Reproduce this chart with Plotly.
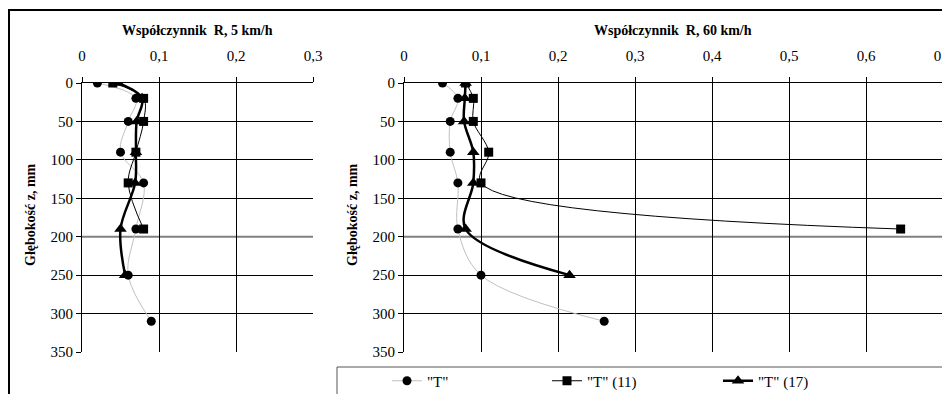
import plotly.graph_objects as go

# ---- data ----
depth = [0, 20, 50, 90, 130, 190, 250, 310]
depth_11 = [0, 20, 50, 90, 130, 190]
depth_17 = [0, 20, 50, 90, 130, 190, 250]

r5_T = [0.02, 0.07, 0.06, 0.05, 0.08, 0.07, 0.06, 0.09]
r5_T11 = [0.04, 0.08, 0.08, 0.07, 0.06, 0.08]
r5_T17 = [0.047, 0.078, 0.071, 0.07, 0.069, 0.05, 0.056]

r60_T = [0.05, 0.07, 0.06, 0.06, 0.07, 0.07, 0.10, 0.26]
r60_T11 = [0.08, 0.09, 0.09, 0.11, 0.10, 0.645]
r60_T17 = [0.08, 0.079, 0.078, 0.09, 0.09, 0.08, 0.215]

names = ['"T"', '"T" (11)', '"T" (17)']
x5_ticks = [0, 0.1, 0.2, 0.3]
x60_ticks = [0, 0.1, 0.2, 0.3, 0.4, 0.5, 0.6, 0.7]
y_ticks = [0, 50, 100, 150, 200, 250, 300, 350]
grey_depth = 200
title_5 = "Współczynnik  R, 5 km/h"
title_60 = "Współczynnik  R, 60 km/h"
y_title = "Głębokość z, mm"

W, H = 950, 394
OFF = 8  # page body margin
FONT = "Liberation Serif, Times New Roman, serif"

def px(x):
    return (x - OFF) / W

def py(y):
    return 1 - (y - OFF) / H

fig = go.Figure()

styles = [
    dict(line=dict(color="#c0c0c0", width=1, shape="spline", smoothing=1),
         marker=dict(symbol="circle", size=9, color="black")),
    dict(line=dict(color="black", width=1, shape="spline", smoothing=1),
         marker=dict(symbol="square", size=9, color="black")),
    dict(line=dict(color="black", width=2.5, shape="spline", smoothing=1),
         marker=dict(symbol="triangle-up", size=11, color="black")),
]
legends = ["legend", "legend2", "legend3"]

panels = [
    ("x", "y", [(r5_T, depth), (r5_T11, depth_11), (r5_T17, depth_17)], True),
    ("x2", "y2", [(r60_T, depth), (r60_T11, depth_11), (r60_T17, depth_17)], False),
]
order = [0, 2, 1]  # draw squares on top
for xa, ya, series, show in panels:
    for i in order:
        xs, ys = series[i]
        fig.add_trace(go.Scatter(
            x=xs, y=ys, mode="lines+markers", name=names[i],
            xaxis=xa, yaxis=ya, legendgroup=names[i], showlegend=show,
            legend=legends[i], **styles[i]))

tickfont = dict(family=FONT, size=15, color="black")
x_common = dict(showgrid=True, gridcolor="black", gridwidth=1, showline=True,
                linecolor="black", linewidth=1, ticks="outside", ticklen=5,
                tickcolor="black", zeroline=False, automargin=False,
                side="top", ticklabelstandoff=10, tickfont=tickfont)
y_common = dict(showgrid=False, showline=True, linecolor="black", linewidth=1,
                ticks="outside", ticklen=5, tickcolor="black", zeroline=False,
                automargin=False, range=[350, 0], tickvals=y_ticks, tickfont=tickfont,
                minor=dict(tickvals=[v for v in y_ticks if v != grey_depth],
                           showgrid=True, gridcolor="black", gridwidth=1, ticks=""))

ydom = [py(352), py(83)]
fig.update_layout(
    width=W, height=H, margin=dict(l=0, r=0, t=0, b=0, autoexpand=False),
    paper_bgcolor="white", plot_bgcolor="white", separators=", ",
    font=dict(family=FONT, size=15, color="black"),
    xaxis=dict(domain=[px(82), px(313)], anchor="y", range=[0, 0.3],
               tickvals=x5_ticks, **x_common),
    yaxis=dict(domain=ydom, anchor="x", **y_common),
    xaxis2=dict(domain=[px(404), px(943)], anchor="y2", range=[0, 0.7],
                tickvals=x60_ticks, **x_common),
    yaxis2=dict(domain=ydom, anchor="x2", **y_common),
)

leg_common = dict(orientation="h", bgcolor="rgba(0,0,0,0)", borderwidth=0,
                  xanchor="left", yanchor="middle", y=py(381),
                  font=dict(family=FONT, size=15, color="black"))
fig.update_layout(
    legend=dict(x=px(409 - 22), **leg_common),
    legend2=dict(x=px(569 - 22), **leg_common),
    legend3=dict(x=px(740 - 22), **leg_common),
)

# grey gridline at 200 in both panels
for xr, yr in (("x domain", "y"), ("x2 domain", "y2")):
    fig.add_shape(type="line", xref=xr, yref=yr, x0=0, x1=1, y0=grey_depth, y1=grey_depth,
                  line=dict(color="#808080", width=2), layer="below")

# outer frame and legend box
fig.add_shape(type="rect", xref="paper", yref="paper", x0=px(9), x1=1.05,
              y0=-0.05, y1=py(10), line=dict(color="black", width=2))
fig.add_shape(type="rect", xref="paper", yref="paper", x0=px(337), x1=1.05,
              y0=-0.05, y1=py(367), line=dict(color="#555555", width=1))

title_font = dict(family=FONT, size=14, color="black")
ann = dict(xref="paper", yref="paper", showarrow=False, font=title_font,
           xanchor="center", yanchor="middle")
fig.add_annotation(text="<b>%s</b>" % title_5, x=px(197), y=py(30), **ann)
fig.add_annotation(text="<b>%s</b>" % title_60, x=px(673), y=py(30), **ann)
fig.add_annotation(text="<b>%s</b>" % y_title, x=px(30), y=py(215), textangle=-90, **ann)
fig.add_annotation(text="<b>%s</b>" % y_title, x=px(352), y=py(215), textangle=-90, **ann)

fig.write_html("out.html")
